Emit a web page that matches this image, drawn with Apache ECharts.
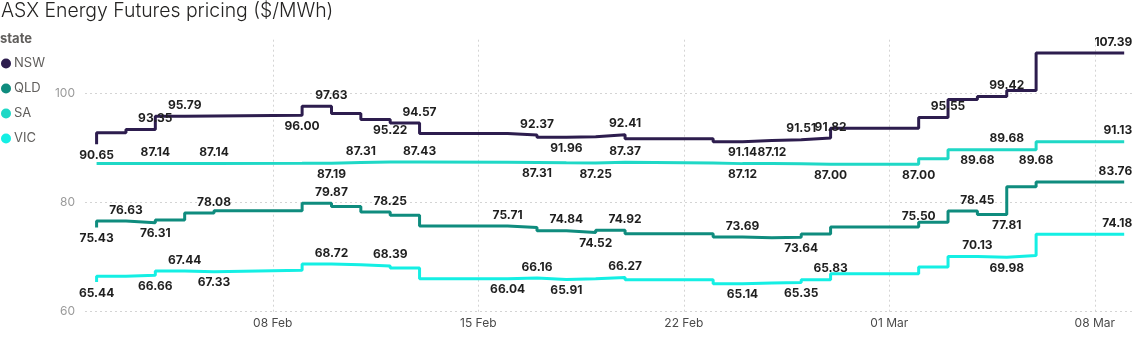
<!DOCTYPE html>
<html><head><meta charset="utf-8">
<script src="https://cdn.jsdelivr.net/npm/echarts@6/dist/echarts.min.js"></script>
<style>html,body{margin:0;padding:0;background:#fff}#c{width:1142px;height:339px}</style>
</head><body><div id="c"></div>
<script>
// ---- data ----
const dates = ['2021-02-02','2021-02-03','2021-02-04','2021-02-05','2021-02-06',
  '2021-02-09','2021-02-10','2021-02-11','2021-02-12','2021-02-13',
  '2021-02-16','2021-02-17','2021-02-18','2021-02-19','2021-02-20',
  '2021-02-23','2021-02-24','2021-02-25','2021-02-26','2021-02-27',
  '2021-03-02','2021-03-03','2021-03-04','2021-03-05','2021-03-06','2021-03-09'];
const states = ['NSW','QLD','SA','VIC'];
const nsw = [90.65, 92.76, 93.35, 95.79, 95.85, 96.00, 97.63, 96.30, 95.22, 94.57,
  92.65, 92.37, 91.96, 92.05, 92.41, 91.66, 91.14, 91.35, 91.51, 91.82,
  93.60, 95.55, 98.86, 99.42, 100.50, 107.39];
const qld = [75.43, 76.63, 76.31, 76.80, 78.08, 78.50, 79.87, 79.25, 78.25, 77.67,
  75.71, 75.42, 74.84, 74.52, 74.92, 74.28, 73.69, 73.56, 73.64, 74.25,
  75.50, 76.40, 78.45, 77.81, 82.90, 83.76];
const sa = [87.14, 87.14, 87.14, 87.14, 87.14, 87.17, 87.19, 87.31, 87.40, 87.43,
  87.35, 87.31, 87.26, 87.25, 87.37, 87.22, 87.12, 87.12, 87.10, 87.00,
  87.00, 88.00, 89.68, 89.68, 89.68, 91.13];
const vic = [65.44, 66.50, 66.66, 67.44, 67.33, 67.60, 68.72, 68.60, 68.39, 68.02,
  66.04, 66.16, 65.91, 66.05, 66.27, 65.87, 65.14, 65.25, 65.35, 65.83,
  66.95, 68.20, 70.13, 69.98, 70.30, 74.18];
const yTicks = [60, 80, 100];
const xTickDates = ['2021-02-08','2021-02-15','2021-02-22','2021-03-01','2021-03-08'];

// ---- label layout (which points carry a value label, and on which side) ----
const labelSide = {
  NSW: {0:'b',2:'t',3:'t',5:'b',6:'t',8:'b',9:'t',11:'t',12:'b',14:'t',16:'b',18:'t',19:'t',21:'t',23:'t',25:'t'},
  QLD: {0:'b',1:'t',2:'b',4:'t',6:'t',8:'t',10:'t',12:'t',13:'b',14:'t',16:'t',18:'b',20:'t',22:'t',23:'b',25:'t'},
  SA:  {2:'t',4:'t',6:'b',7:'t',9:'t',11:'b',13:'b',14:'t',16:'b',17:'t',19:'b',20:'b',22:'b',23:'t',24:'b',25:'t'},
  VIC: {0:'b',2:'b',3:'t',4:'b',6:'t',8:'t',10:'b',11:'t',12:'b',14:'t',16:'b',18:'b',19:'t',22:'t',23:'b',25:'t'}
};
const colors = ['#2d1d4e', '#0f8c7e', '#1fd8c6', '#14efe4'];

// ---- build ----
const DAY = 86400000, BASE = Date.UTC(2021, 1, 1);
const toX = s => (Date.parse(s + 'T00:00:00Z') - BASE) / DAY;
const MON = ['Jan','Feb','Mar','Apr','May','Jun','Jul','Aug','Sep','Oct','Nov','Dec'];
const fmtDay = v => { const d = new Date(BASE + v * DAY); return String(d.getUTCDate()).padStart(2,'0') + ' ' + MON[d.getUTCMonth()]; };
const FONT = 'Inter';
const values = [nsw, qld, sa, vic];
const lastIdx = dates.length - 1;
const gridStyle = { type: [2, 3], color: '#d4d4d4', width: 1 };

const series = states.map((name, si) => ({
  name, type: 'line', step: 'start',
  symbol: 'circle', symbolSize: 0, showSymbol: true,
  lineStyle: { width: 3, color: colors[si] },
  itemStyle: { color: colors[si] },
  emphasis: { disabled: true },
  label: { show: false },
  z: 10 - si,
  markLine: si === 0 ? {
    silent: true, symbol: ['none', 'none'], z: 1,
    label: { show: false }, lineStyle: gridStyle, emphasis: { disabled: true },
    data: xTickDates.map(d => ({ xAxis: toX(d) }))
  } : undefined,
  data: dates.map((d, i) => {
    const item = { value: [toX(d), values[si][i]] };
    const side = labelSide[name][i];
    if (side) {
      item.label = {
        show: true, position: side === 't' ? 'top' : 'bottom', distance: 5,
        formatter: p => p.value[1].toFixed(2),
        fontFamily: FONT, fontWeight: 'bold', fontSize: 12, color: '#1f1f1f'
      };
      if (i === lastIdx) { item.label.align = 'right'; item.label.offset = [8, 0]; }
    }
    return item;
  })
}));

const chart = echarts.init(document.getElementById('c'), null, { renderer: 'canvas' });
chart.setOption({
  animation: false,
  backgroundColor: '#fff',
  textStyle: { fontFamily: FONT },
  title: [
    { text: 'ASX Energy Futures pricing ($/MWh)', left: 1, top: 2, padding: 0,
      textStyle: { fontFamily: FONT, fontSize: 19.4, fontWeight: 300, color: '#252423' } },
    { text: 'state', left: 0, top: 33, padding: 0,
      textStyle: { fontFamily: FONT, fontSize: 13, fontWeight: 'bold', color: '#605e5c' } }
  ],
  legend: {
    orient: 'vertical', left: 1, top: 57, padding: 0, itemGap: 12,
    itemWidth: 10, itemHeight: 10, icon: 'circle',
    textStyle: { fontFamily: FONT, fontSize: 13, color: '#605e5c', padding: [0, 0, 0, -2] },
    data: states
  },
  grid: { left: 85, right: 9, top: 38.7, bottom: 27.3, containLabel: false },
  xAxis: {
    type: 'value', min: 0.605, max: 36.30,
    axisLine: { show: false },
    axisTick: { show: false, customValues: xTickDates.map(toX) },
    axisLabel: { customValues: xTickDates.map(toX), formatter: fmtDay, margin: 6,
      fontFamily: FONT, fontSize: 12, color: '#4a4a4a' },
    splitLine: { show: false }
  },
  yAxis: {
    type: 'value', min: 60, max: 110,
    axisLine: { show: false },
    axisTick: { show: false, customValues: yTicks },
    axisLabel: { customValues: yTicks, margin: 10, fontFamily: FONT, fontSize: 12, color: '#9a9a9a' },
    splitLine: { show: true, lineStyle: gridStyle }
  },
  tooltip: { show: false },
  series
});
</script></body></html>
